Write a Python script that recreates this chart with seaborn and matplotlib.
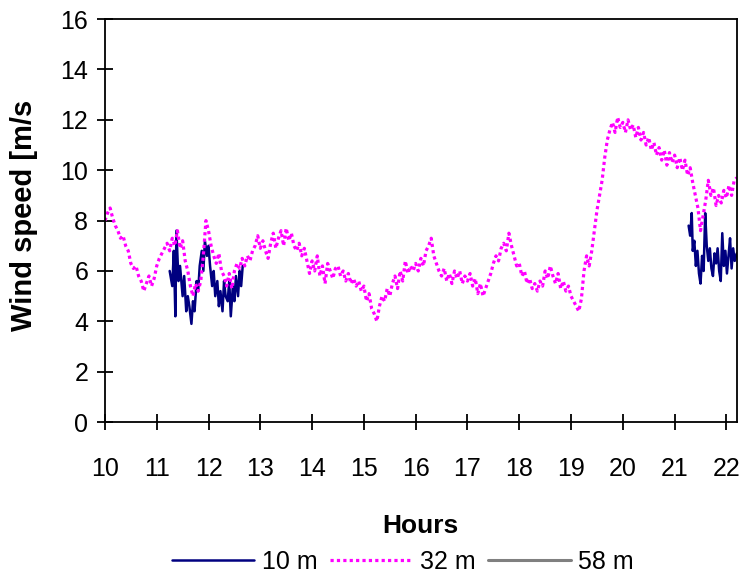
import numpy as np
import pandas as pd
import seaborn as sns
import matplotlib
matplotlib.use('Agg')
import matplotlib.pyplot as plt

sns.set_theme(style='ticks')
plt.rcParams['font.family'] = ['Liberation Sans', 'DejaVu Sans']
plt.rcParams['text.color'] = 'black'
plt.rcParams['axes.labelcolor'] = 'black'

# ── data (wind speed in m/s against hour of day) ──
# 32 m sensor, one value every 0.05 h (3 min) from 10.00 to 22.20
hours_32 = np.round(np.arange(10.0, 22.2001, 0.05), 2)
speed_32 = [
    8.0, 8.3, 8.5, 8.1, 7.8, 7.6, 7.3, 7.4, 7.0, 6.8, 6.3, 6.1, 6.2, 5.8, 5.6, 5.2, 5.5, 5.8, 5.4, 5.7,   # 10
    6.2, 6.5, 6.7, 6.9, 7.1, 6.8, 7.3, 7.0, 7.6, 6.9, 7.2, 6.4, 6.0, 5.4, 5.0, 5.5, 5.2, 5.6, 6.6, 8.0,   # 11
    7.6, 7.0, 6.6, 6.3, 6.7, 6.0, 5.8, 5.4, 5.9, 5.3, 6.0, 6.3, 6.1, 6.5, 6.2, 6.6, 6.4, 6.8, 7.0, 7.4,   # 12
    6.9, 7.2, 6.8, 6.5, 7.1, 7.5, 6.9, 7.3, 7.6, 7.0, 7.7, 7.2, 7.5, 7.0, 6.8, 7.1, 6.6, 6.9, 6.4, 5.9,   # 13
    6.4, 6.0, 6.6, 5.8, 6.2, 5.5, 6.3, 6.0, 5.7, 6.1, 6.2, 5.8, 6.0, 5.6, 5.9, 5.5, 5.7, 5.4, 5.6, 5.2,   # 14
    5.4, 4.8, 5.1, 4.5, 4.3, 4.0, 4.6, 5.0, 4.8, 5.3, 5.0, 5.5, 5.8, 5.3, 6.0, 5.6, 6.4, 5.9, 6.2, 6.0,   # 15
    6.3, 6.0, 6.5, 6.2, 6.8, 7.0, 7.3, 6.6, 6.3, 6.0, 5.8, 6.1, 5.6, 5.9, 5.5, 6.0, 5.7, 6.0, 5.5, 5.8,   # 16
    5.6, 5.9, 5.4, 5.7, 5.1, 5.5, 5.0, 5.3, 5.6, 5.9, 6.3, 6.6, 6.4, 6.9, 7.1, 6.8, 7.5, 7.0, 6.6, 6.2,   # 17
    6.3, 5.8, 6.0, 5.5, 5.7, 5.3, 5.5, 5.2, 5.6, 5.4, 6.0, 5.7, 6.2, 5.8, 5.5, 5.9, 5.3, 5.6, 5.2, 5.4,   # 18
    5.0, 4.8, 4.6, 4.4, 4.9, 6.0, 6.6, 6.2, 6.8, 7.6, 8.4, 9.0, 9.6, 10.5, 11.2, 11.6, 11.9, 11.5, 12.1, 11.7,   # 19
    11.9, 11.5, 12.0, 11.6, 11.8, 11.3, 11.7, 11.2, 11.5, 11.0, 11.3, 10.8, 11.1, 10.6, 10.9, 10.4, 10.8, 10.2, 10.7, 10.3,   # 20
    10.6, 10.1, 10.5, 10.0, 10.4, 9.8, 10.1, 9.5, 9.0, 8.5, 7.6, 8.2, 8.8, 9.6, 9.0, 9.3, 8.6, 9.0, 8.7, 9.2,   # 21
    8.9, 9.4, 9.0, 9.6, 9.7,   # 22
]

# 10 m sensor, two short recorded stretches
hours_10_a = [11.25, 11.30, 11.33, 11.36, 11.38, 11.42, 11.45, 11.50, 11.53, 11.57, 11.60,
              11.63, 11.67, 11.70, 11.73, 11.77, 11.80, 11.83, 11.87, 11.90, 11.93, 11.97,
              12.00, 12.03, 12.07, 12.10, 12.13, 12.17, 12.20, 12.23, 12.27, 12.30, 12.33,
              12.37, 12.40, 12.43, 12.47, 12.50, 12.53, 12.57, 12.60, 12.63, 12.66]
speed_10_a = [6.0, 5.4, 6.8, 4.2, 7.6, 5.6, 6.2, 5.0, 5.8, 4.4, 5.0,
              4.6, 3.9, 4.8, 4.4, 5.6, 5.2, 6.2, 6.8, 6.0, 7.2, 6.6,
              7.0, 6.2, 5.4, 6.0, 5.0, 5.6, 4.6, 5.2, 4.4, 5.6, 5.0,
              4.8, 5.6, 4.2, 5.4, 4.8, 5.8, 5.0, 6.0, 5.4, 6.2]
hours_10_b = [21.27, 21.30, 21.33, 21.35, 21.38, 21.41, 21.44, 21.47, 21.50, 21.53, 21.56,
              21.59, 21.62, 21.65, 21.68, 21.71, 21.74, 21.77, 21.80, 21.83, 21.86, 21.89,
              21.92, 21.95, 21.98, 22.01, 22.04, 22.07, 22.10, 22.13, 22.16, 22.20]
speed_10_b = [7.8, 7.4, 8.3, 6.8, 7.2, 6.2, 6.8, 5.9, 5.5, 6.6, 6.0,
              8.3, 7.0, 6.4, 6.9, 6.1, 5.8, 6.7, 6.3, 6.9, 6.0, 5.6,
              7.5, 6.2, 6.8, 5.9, 6.6, 7.3, 6.1, 6.9, 6.4, 6.7]

# 58 m sensor: no values shown in this window
hours_58 = []
speed_58 = []

hour_ticks = list(range(10, 23))
speed_ticks = list(range(0, 17, 2))

df32 = pd.DataFrame({'hour': hours_32, 'speed': speed_32})
df10a = pd.DataFrame({'hour': hours_10_a, 'speed': speed_10_a})
df10b = pd.DataFrame({'hour': hours_10_b, 'speed': speed_10_b})

fig = plt.figure(figsize=(7.39, 5.79), dpi=100)
ax = fig.add_axes([0.142, 0.271, 0.855, 0.696])

sns.lineplot(data=df10a, x='hour', y='speed', color='#000080', lw=1.8, ax=ax, label='10 m')
sns.lineplot(data=df10b, x='hour', y='speed', color='#000080', lw=1.8, ax=ax)
sns.lineplot(data=df32, x='hour', y='speed', color='#FF00FF', lw=2.6,
             linestyle=(0, (1, 1)), ax=ax, label='32 m')
ax.plot(hours_58, speed_58, color='#808080', lw=2.2, label='58 m')

ax.set_xlim(10, 22.2)
ax.set_ylim(0, 16)
ax.set_xticks(hour_ticks)
ax.set_yticks(speed_ticks)
ax.tick_params(axis='both', direction='inout', length=12, width=1.3,
               labelsize=18, colors='black')
ax.tick_params(axis='x', pad=19)
ax.tick_params(axis='y', pad=6)
for s in ax.spines.values():
    s.set_visible(True)
    s.set_color('black')
    s.set_linewidth(1.3)

ax.set_xlabel('Hours', fontsize=19, fontweight='bold', labelpad=24, color='black')
ax.set_ylabel('Wind speed [m/s', fontsize=21, fontweight='bold', color='black')
ax.yaxis.set_label_coords(-0.106, 0.514)

ax.get_legend().remove()
handles, labels = ax.get_legend_handles_labels()
handles[1].set_linewidth(2.3)
fig.legend(handles, labels, loc='center', bbox_to_anchor=(0.545, 0.029), ncol=3,
           frameon=False, fontsize=18, handlelength=3.3, handletextpad=0.3,
           columnspacing=0.5, borderaxespad=0, labelcolor='black')

fig.savefig('out.png', dpi=100, facecolor='white')
